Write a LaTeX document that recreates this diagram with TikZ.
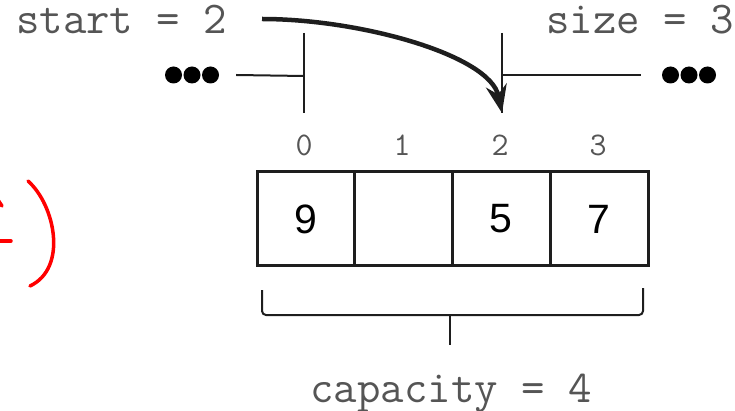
\documentclass[tikz,border=0pt]{standalone}
\usepackage{fontspec}
\newfontfamily\sansfam{Liberation Sans}
\usetikzlibrary{arrows.meta}
\definecolor{txtgray}{HTML}{555555}
\definecolor{ink}{HTML}{1E1E1E}
\tikzset{
  lbl/.style={inner sep=0pt, text=txtgray, font=\ttfamily\fontsize{45.5}{45.5}\selectfont},
  idx/.style={inner sep=0pt, text=txtgray, font=\ttfamily\fontsize{33}{33}\selectfont},
  cell/.style={draw=ink, line width=3pt, minimum width=97.75pt, minimum height=94pt, inner sep=0pt, font=\sansfam\fontsize{41}{41}\selectfont},
  thinline/.style={draw=ink, line width=2pt},
  dotsbox/.style={minimum width=56pt, minimum height=17pt, inner sep=0pt,
    path picture={
      \fill[black] ([xshift=-18.5pt]path picture bounding box.center) circle (8.5pt);
      \fill[black] (path picture bounding box.center) circle (8.5pt);
      \fill[black] ([xshift=18.5pt]path picture bounding box.center) circle (8.5pt);
    }},
  handred/.style={draw=red, line width=3.5pt, line cap=round, line join=round}
}
\begin{document}
\begin{tikzpicture}[x=1pt,y=-1pt]
\useasboundingbox (0,0) rectangle (735,411);
% labels
\node[lbl, anchor=base west] (startlbl) at (16,34) {start = 2};
\node[lbl, anchor=base east] (sizelbl) at (734,34) {size = 3};
\node[lbl, anchor=base] (caplbl) at (451,402) {capacity = 4};
% cells
\node[cell] (c0) at (305.875,219) {9};
\node[cell] (c1) at (403.625,219) {};
\node[cell] (c2) at (501.375,219) {5};
\node[cell] (c3) at (599.125,219) {7};
% indices
\node[idx] (i0) at (304,145) {0};
\node[idx] (i1) at (402,145) {1};
\node[idx] (i2) at (500,145) {2};
\node[idx] (i3) at (598,145) {3};
% markers
\coordinate (m0top) at (304,33);
\coordinate (m0mid) at (304,76);
\coordinate (m0bot) at (304,113);
\coordinate (m2top) at (502,33);
\coordinate (m2mid) at (502,75);
\coordinate (m2bot) at (502,113);
\draw[thinline] (m0top) -- (m0bot);
\draw[thinline] (m2top) -- (m2bot);
\node[dotsbox] (ldots) at (192,75) {};
\node[dotsbox] (rdots) at (689,75) {};
\draw[thinline] ([xshift=16pt]ldots.east) -- (m0mid);
\draw[thinline] (m2mid) -- ([xshift=-20pt]rdots.west);
% arrow
\coordinate (astart) at (262,19);
\draw[ink, line width=4.5pt, -{Stealth[length=28pt,width=21pt]}] (astart) .. controls (360,19) and (490,55) .. (m2bot);
% brace
\coordinate (bl) at (262,290);
\coordinate (br) at (643,288);
\coordinate (bm) at (450,315);
\coordinate (bt) at (450,345);
\draw[thinline, rounded corners=4pt] (bl) -- (262,315) -- (643,315) -- (br);
\draw[thinline] (bm) -- (bt);
% red handwriting
\draw[handred] (28,181) .. controls (55,205) and (68,268) .. (30,286);
\draw[handred] (-2,241) -- (11,241);
\draw[handred] (-2,200) -- (2,206);
\end{tikzpicture}
\end{document}
